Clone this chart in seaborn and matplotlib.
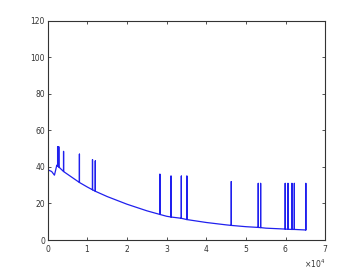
import matplotlib
matplotlib.use("Agg")
import matplotlib.pyplot as plt
import seaborn as sns
import pandas as pd

# series (x in raw units, shown as x10^4)
x_vals = [0, 1000, 1700, 2300, 2500, 2500, 2500, 2800, 2800, 2800, 4000, 4000, 4000,
          6000, 8000, 8000, 8000, 10000, 11300, 11300, 11300, 12000, 12000, 12000,
          15000, 20000, 25000, 28300, 28300, 28300, 30000, 31100, 31100, 31100,
          33700, 33700, 33700, 35100, 35100, 35100, 40000, 45000, 46300, 46300, 46300,
          50000, 53100, 53100, 53100, 53700, 53700, 53700, 55000, 59900, 59900, 59900,
          60600, 60600, 60600, 61600, 61600, 61600, 62200, 62200, 62200,
          65100, 65100, 65100]
y_vals = [38.5, 37.5, 35.5, 41, 40.5, 51, 40.5, 40, 51, 40, 37.5, 48.5, 37.5,
          34.5, 31.5, 47, 31.5, 29, 27.5, 44, 27.5, 26.7, 43.3, 26.7,
          23.8, 19.6, 16, 14, 36, 14, 13, 12.6, 35, 12.6,
          11.9, 35, 11.9, 11.2, 35, 11.2, 9.6, 8.3, 8, 32, 8,
          7.3, 6.9, 31, 6.9, 6.8, 31, 6.8, 6.5, 6.0, 31, 6.0,
          5.9, 31, 5.9, 5.8, 31, 5.8, 5.8, 31, 5.8,
          5.5, 31, 5.5]
x_ticks = [0, 10000, 20000, 30000, 40000, 50000, 60000, 70000]
y_ticks = [0, 20, 40, 60, 80, 100, 120]

df = pd.DataFrame({"x": x_vals, "y": y_vals, "order": range(len(x_vals))})

sns.set_style("white")
fig = plt.figure(figsize=(3.6, 2.7), dpi=100)
ax = fig.add_axes([0.1325, 0.111, 0.771, 0.812])
sns.lineplot(data=df, x="x", y="y", sort=False, estimator=None, ax=ax,
             color="#2020ee", linewidth=0.9)

ax.set_xlim(0, 70000)
ax.set_ylim(0, 120)
ax.set_xticks(x_ticks)
ax.set_yticks(y_ticks)
ax.ticklabel_format(style="sci", axis="x", scilimits=(4, 4), useMathText=True)
ax.set_xlabel("")
ax.set_ylabel("")
for s in ax.spines.values():
    s.set_color("#333333")
    s.set_linewidth(0.8)
ax.tick_params(direction="in", length=2, width=0.6, labelsize=5.5,
               colors="#333333", top=True, right=True, bottom=True, left=True, pad=2)
ax.xaxis.get_offset_text().set_fontsize(5.5)
ax.xaxis.get_offset_text().set_color("#333333")
fig.savefig("out.png", dpi=100)
